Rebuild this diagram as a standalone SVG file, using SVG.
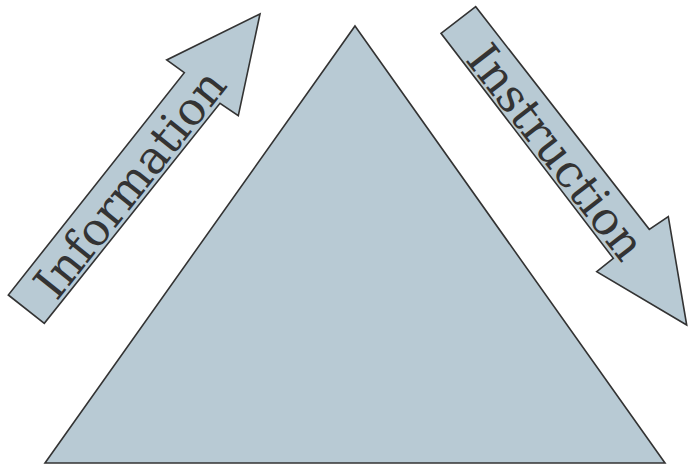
<svg xmlns="http://www.w3.org/2000/svg" width="688" height="466" viewBox="0 0 688 466">
<style>
.shape{fill:#b8cad4;stroke:#333333;stroke-width:1.6;stroke-linejoin:miter}
.lbl{font-family:"DejaVu Serif","Liberation Serif",serif;font-size:46px;fill:#333333;text-anchor:middle;dominant-baseline:central}
</style>
<rect width="688" height="466" fill="#ffffff"/>
<g id="pyramid">
<polygon class="shape" points="355,26 665,463 45,463"/>
</g>
<g id="connectors">
<g id="information">
<polygon class="shape" points="260,14 238.3,115.7 220,103.3 44.3,323.3 8.3,295 184.3,72.7 166.7,60"/>
<text class="lbl" transform="translate(130,184) rotate(-51.5)">Information</text>
</g>
<g id="instruction">
<polygon class="shape" points="686.7,325 596.7,271.7 613.3,258.3 441,33.3 475.7,6.7 649.3,229.3 668.3,216.7"/>
<text class="lbl" transform="translate(556,152) rotate(52.3)">Instruction</text>
</g>
</g>
</svg>
